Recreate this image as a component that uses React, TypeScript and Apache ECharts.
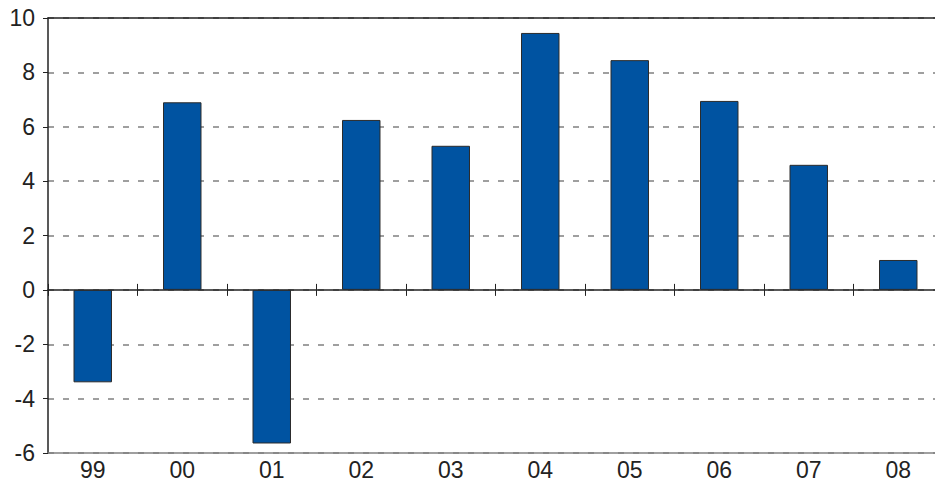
import React, { useEffect, useRef } from "react";
import * as echarts from "echarts";

const categories = ["99", "00", "01", "02", "03", "04", "05", "06", "07", "08"];
const values = [-3.4, 6.9, -5.65, 6.25, 5.3, 9.45, 8.45, 6.95, 4.6, 1.1];
const yTicks = [-6, -4, -2, 0, 2, 4, 6, 8, 10];

export default function App() {
  const ref = useRef<HTMLDivElement>(null);
  useEffect(() => {
    if (!ref.current) return;
    const chart = echarts.init(ref.current, undefined, { renderer: "svg" });
    const font = "Liberation Sans, Arial, Helvetica, sans-serif";
    const yMin = yTicks[0];
    const yMax = yTicks[yTicks.length - 1];
    chart.setOption({
      animation: false,
      grid: { left: 48, top: 18, right: 0, bottom: 29, containLabel: false },
      xAxis: [
        {
          type: "category",
          data: categories,
          position: "bottom",
          axisLine: { onZero: false, lineStyle: { color: "#808080", width: 1.5 } },
          axisTick: { show: false },
          axisLabel: { color: "#222", fontSize: 23, fontFamily: font, margin: 5 },
        },
        {
          type: "category",
          data: categories,
          position: "bottom",
          axisLine: { onZero: true, onZeroAxisIndex: 0, lineStyle: { color: "#222", width: 1.5 } },
          axisTick: { show: true, inside: false, length: 6, lineStyle: { color: "#222" } },
          axisLabel: { show: false },
        },
        {
          type: "category",
          data: categories,
          position: "bottom",
          axisLine: { onZero: true, onZeroAxisIndex: 1, show: true, lineStyle: { color: "rgba(0,0,0,0)", width: 0 } },
          axisTick: { show: true, inside: true, length: 6, lineStyle: { color: "#222" } },
          axisLabel: { show: false },
        },
        {
          type: "category",
          data: categories,
          position: "top",
          axisLine: { onZero: false, lineStyle: { color: "#222", width: 1.5 } },
          axisTick: { show: false },
          axisLabel: { show: false },
        },
      ],
      yAxis: [
        {
          type: "value",
          min: yMin,
          max: yMax,
          interval: 2,
          axisLine: { show: true, lineStyle: { color: "#222", width: 1.5 } },
          axisTick: { show: true, length: 5, lineStyle: { color: "#222" } },
          axisLabel: { color: "#222", fontSize: 23, fontFamily: font, margin: 13 },
          splitLine: {
            show: true,
            lineStyle: { color: "#808080", type: [6, 9], width: 1.5 },
          },
        },
        {
          type: "value",
          min: yMin,
          max: yMax,
          interval: 2,
          show: false,
          splitLine: { show: false },
        },
      ],
      series: [
        {
          type: "bar",
          data: values,
          xAxisIndex: 0,
          yAxisIndex: 0,
          barWidth: "43%",
          itemStyle: { color: "#0053a1", borderColor: "#2b2b2b", borderWidth: 1 },
        },
      ],
    });
    return () => chart.dispose();
  }, []);
  return <div ref={ref} style={{ width: 943, height: 482, marginLeft: -8, marginTop: -8 }} />;
}
